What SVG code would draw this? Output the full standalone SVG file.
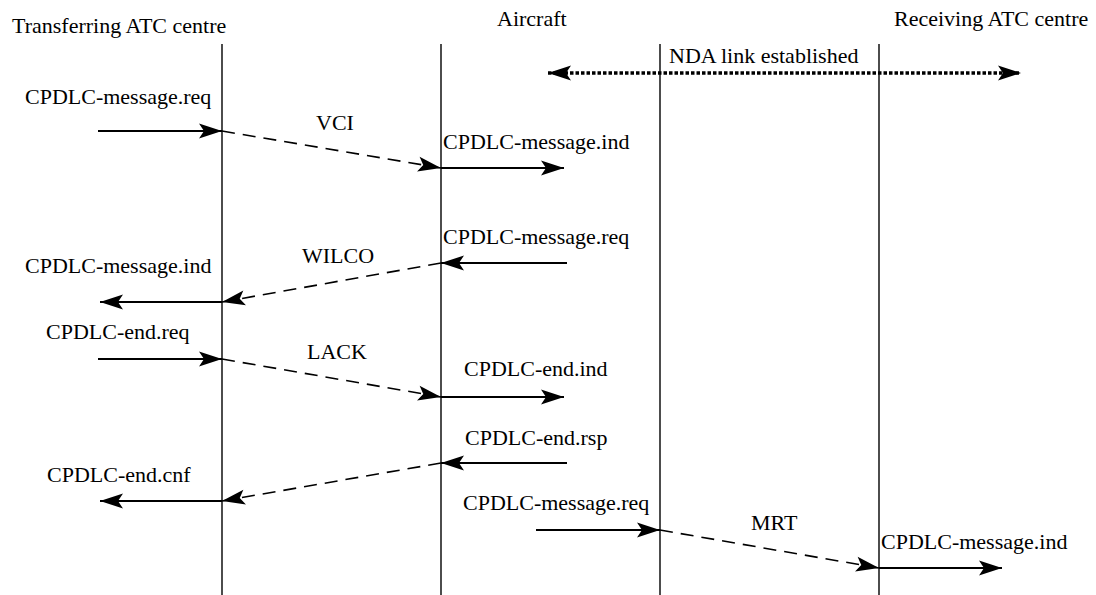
<svg xmlns="http://www.w3.org/2000/svg" width="1096" height="595" viewBox="0 0 1096 595">
<style>
text{font-family:"Liberation Serif","Times New Roman",serif;font-size:22px;fill:#000}
.life{stroke:#000;stroke-width:1.4}
.sol{stroke:#000;stroke-width:1.8;fill:none;marker-end:url(#ah)}
.dsh{stroke:#000;stroke-width:1.6;fill:none;stroke-dasharray:13 8;marker-end:url(#ah)}
.dot{stroke:#000;stroke-width:3.5;fill:none;stroke-dasharray:3.5 2;marker-start:url(#ahs);marker-end:url(#ah)}
</style>
<defs>
<marker id="ah" markerUnits="userSpaceOnUse" markerWidth="26" markerHeight="18" refX="23" refY="7.5" orient="auto" overflow="visible">
<path d="M23,7.5 L0,0 L5,7.5 L0,15 Z" fill="#000" stroke="none"/>
</marker>
<marker id="ahs" markerUnits="userSpaceOnUse" markerWidth="26" markerHeight="18" refX="0" refY="7.5" orient="auto" overflow="visible">
<path d="M0,7.5 L23,0 L18,7.5 L23,15 Z" fill="#000" stroke="none"/>
</marker>
</defs>
<rect width="1096" height="595" fill="#fff"/>
<g id="transferring">
<text x="12" y="33">Transferring ATC centre</text>
<line class="life" x1="222" y1="44" x2="222" y2="595"/>
</g>
<g id="aircraft">
<text x="497" y="26">Aircraft</text>
<line class="life" x1="441" y1="44" x2="441" y2="595"/>
</g>
<g id="aircraft2">
<line class="life" x1="660" y1="44" x2="660" y2="595"/>
</g>
<g id="receiving">
<text x="894" y="26">Receiving ATC centre</text>
<line class="life" x1="879" y1="44" x2="879" y2="595"/>
</g>
<g id="connectors">
<line class="dot" x1="548" y1="73" x2="1021" y2="73"/>
<line class="sol" x1="98" y1="131" x2="222" y2="131"/>
<line class="dsh" x1="222" y1="131" x2="441" y2="168"/>
<line class="sol" x1="441" y1="168" x2="564" y2="168"/>
<line class="sol" x1="567" y1="263" x2="441" y2="263"/>
<line class="dsh" x1="441" y1="263" x2="222" y2="302"/>
<line class="sol" x1="222" y1="302" x2="100" y2="302"/>
<line class="sol" x1="98" y1="359" x2="222" y2="359"/>
<line class="dsh" x1="222" y1="359" x2="441" y2="397"/>
<line class="sol" x1="441" y1="397" x2="564" y2="397"/>
<line class="sol" x1="567" y1="463" x2="441" y2="463"/>
<line class="dsh" x1="441" y1="463" x2="222" y2="501"/>
<line class="sol" x1="222" y1="501" x2="100" y2="501"/>
<line class="sol" x1="536" y1="530" x2="660" y2="530"/>
<line class="dsh" x1="660" y1="530" x2="879" y2="568"/>
<line class="sol" x1="879" y1="568" x2="1002" y2="568"/>
</g>
<g id="labels">
<text x="669" y="63">NDA link established</text>
<text x="25" y="104">CPDLC-message.req</text>
<text x="316" y="130">VCI</text>
<text x="443" y="149">CPDLC-message.ind</text>
<text x="443" y="244">CPDLC-message.req</text>
<text x="302" y="263">WILCO</text>
<text x="25" y="273">CPDLC-message.ind</text>
<text x="46" y="339">CPDLC-end.req</text>
<text x="307" y="359">LACK</text>
<text x="464" y="376">CPDLC-end.ind</text>
<text x="465" y="445">CPDLC-end.rsp</text>
<text x="47" y="482">CPDLC-end.cnf</text>
<text x="463" y="510">CPDLC-message.req</text>
<text x="751" y="530">MRT</text>
<text x="881" y="549">CPDLC-message.ind</text>
</g>
</svg>
